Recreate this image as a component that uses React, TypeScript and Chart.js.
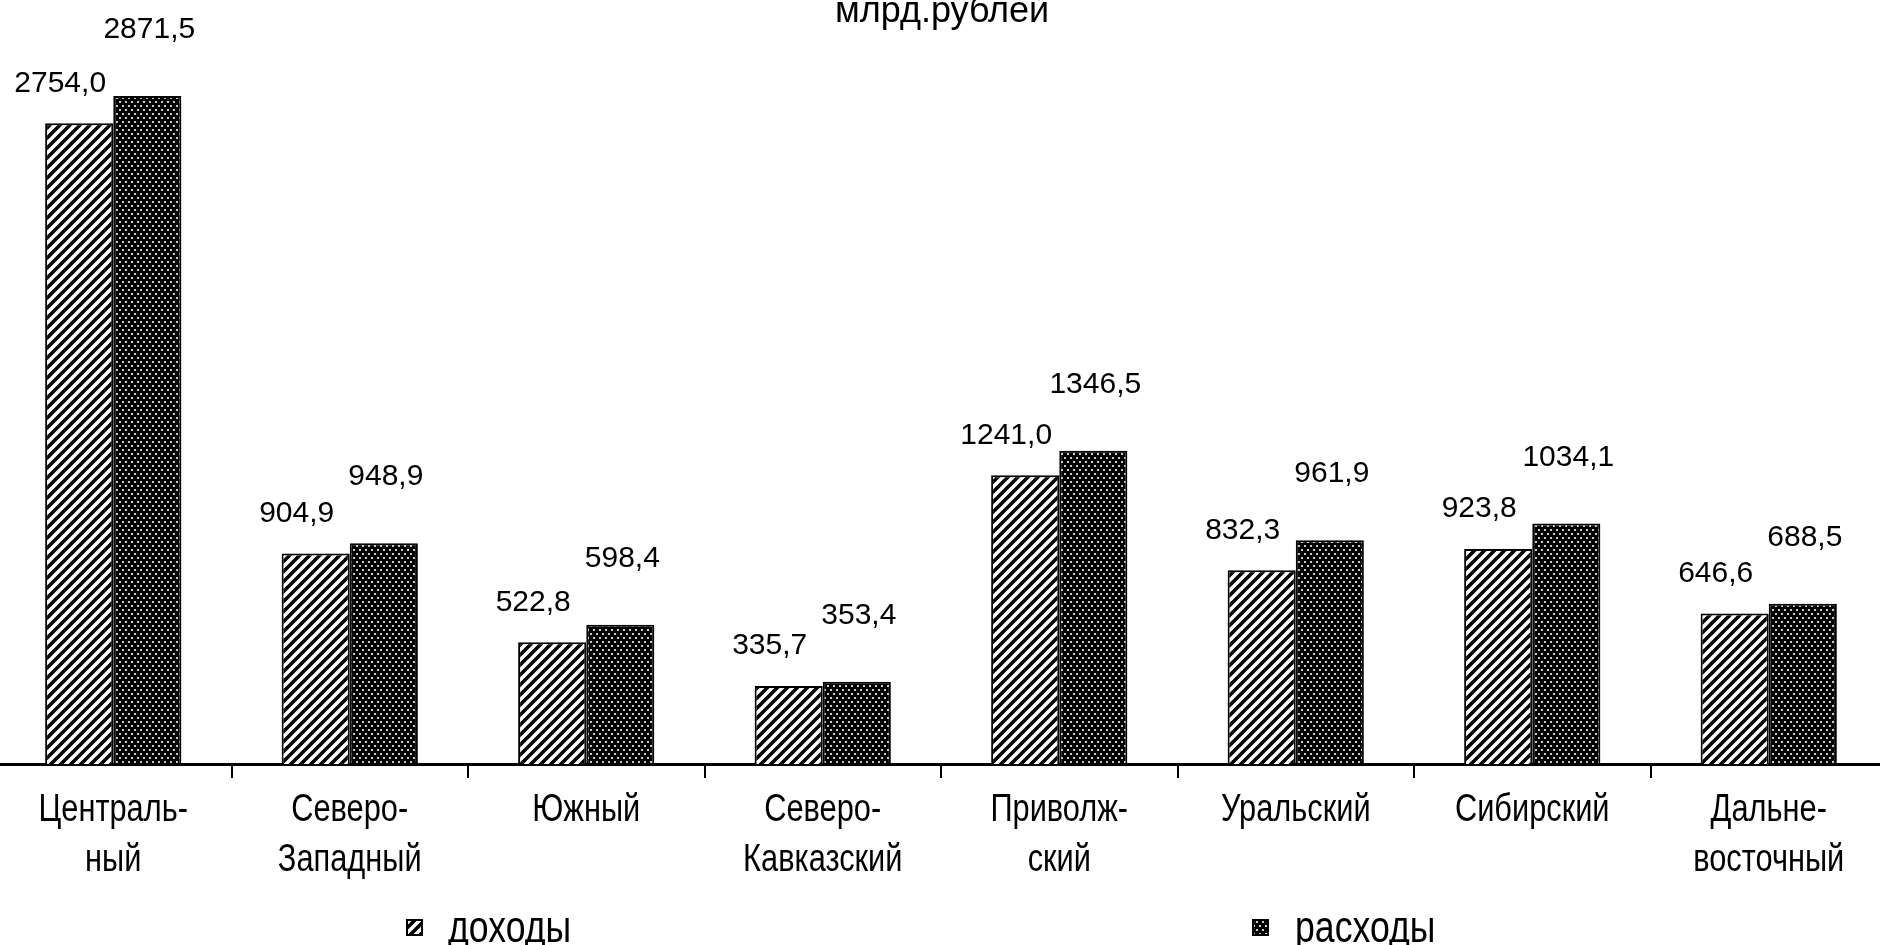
import React, { useEffect, useRef } from "react";
import { Chart, registerables } from "chart.js";

Chart.register(...registerables);

// ---- data ----
const categories: string[][] = [
  ["Централь-", "ный"],
  ["Северо-", "Западный"],
  ["Южный"],
  ["Северо-", "Кавказский"],
  ["Приволж-", "ский"],
  ["Уральский"],
  ["Сибирский"],
  ["Дальне-", "восточный"],
];
const incomeValues = [2754.0, 904.9, 522.8, 335.7, 1241.0, 832.3, 923.8, 646.6];
const expenseValues = [2871.5, 948.9, 598.4, 353.4, 1346.5, 961.9, 1034.1, 688.5];
const seriesNames = ["доходы", "расходы"];
const unitTitle = "млрд.рублей";
const yMin = 0;
const yMax = 3000;

// ---- layout / style constants ----
const CANVAS_LEFT = -5;
const CANVAS_WIDTH = 1892;
const CANVAS_HEIGHT = 945;
const REGULAR = "'Liberation Sans', Arial, sans-serif";
const CONDENSE = 0.81;
const LEGEND_CONDENSE = 0.81;
const labelOffsets = [
  { dx: -19, dy: 40 },
  { dx: 2, dy: 66 },
];
const legendItems = [
  { boxX: 407, textX: 448 },
  { boxX: 1253, textX: 1295 },
];

const fmt = (v: number) => v.toFixed(1).replace(".", ",");

function makeHatch(ctx: CanvasRenderingContext2D): CanvasPattern | string {
  const s = 10;
  const c = document.createElement("canvas");
  c.width = s;
  c.height = s;
  const g = c.getContext("2d")!;
  g.fillStyle = "#fff";
  g.fillRect(0, 0, s, s);
  g.strokeStyle = "#000";
  g.lineWidth = 3.6;
  g.beginPath();
  for (const k of [-1, 0, 1]) {
    g.moveTo(k * s - 1, s + 1);
    g.lineTo(k * s + s + 1, -1);
  }
  g.stroke();
  return ctx.createPattern(c, "repeat") || "#fff";
}

function makeDots(ctx: CanvasRenderingContext2D): CanvasPattern | string {
  const w = 6;
  const h = 8;
  const c = document.createElement("canvas");
  c.width = w;
  c.height = h;
  const g = c.getContext("2d")!;
  g.fillStyle = "#000";
  g.fillRect(0, 0, w, h);
  g.fillStyle = "#c8c8c8";
  g.fillRect(1, 1, 2, 2);
  g.fillRect(4, 5, 2, 2);
  return ctx.createPattern(c, "repeat") || "#000";
}

function condensedText(
  ctx: CanvasRenderingContext2D,
  text: string,
  x: number,
  y: number,
  factor: number
) {
  ctx.save();
  ctx.translate(x, y);
  ctx.scale(factor, 1);
  ctx.fillText(text, 0, 0);
  ctx.restore();
}

const overlayPlugin = {
  id: "overlay",
  afterDraw(chart: any) {
    const ctx: CanvasRenderingContext2D = chart.ctx;
    ctx.save();
    ctx.fillStyle = "#000";

    // value labels
    ctx.font = `30px ${REGULAR}`;
    ctx.textAlign = "center";
    ctx.textBaseline = "middle";
    chart.data.datasets.forEach((ds: any, i: number) => {
      const meta = chart.getDatasetMeta(i);
      const off = labelOffsets[i];
      meta.data.forEach((bar: any, j: number) => {
        ctx.fillText(fmt(ds.data[j]), bar.x + off.dx, bar.y - off.dy);
      });
    });

    // category labels (condensed, positioned through the x scale)
    const xs = chart.scales.x;
    ctx.font = `38px ${REGULAR}`;
    ctx.textAlign = "center";
    ctx.textBaseline = "middle";
    (chart.data.labels as string[][]).forEach((lines, i) => {
      const px = xs.getPixelForValue(i);
      lines.forEach((line, k) => {
        condensedText(ctx, line, px, xs.top + 47 + k * 50, CONDENSE);
      });
    });

    // title
    ctx.font = `36px ${REGULAR}`;
    ctx.textAlign = "center";
    ctx.textBaseline = "alphabetic";
    ctx.fillText(unitTitle, 942 - CANVAS_LEFT, 22);

    // legend
    ctx.textAlign = "left";
    ctx.font = `44px ${REGULAR}`;
    chart.data.datasets.forEach((ds: any, i: number) => {
      const item = legendItems[i];
      const bx = item.boxX - CANVAS_LEFT;
      const by = 920;
      ctx.fillStyle = ds.backgroundColor;
      ctx.fillRect(bx, by, 15, 15);
      ctx.strokeStyle = "#000";
      ctx.lineWidth = 2;
      ctx.strokeRect(bx, by, 15, 15);
      ctx.fillStyle = "#000";
      condensedText(ctx, ds.label, item.textX - CANVAS_LEFT, 942, LEGEND_CONDENSE);
    });
    ctx.restore();
  },
};

export default function App() {
  const ref = useRef<HTMLCanvasElement | null>(null);

  useEffect(() => {
    const canvas = ref.current;
    if (!canvas) return;
    const ctx = canvas.getContext("2d")!;
    const chart = new Chart(canvas, {
      type: "bar",
      data: {
        labels: categories,
        datasets: [
          {
            label: seriesNames[0],
            data: incomeValues,
            backgroundColor: makeHatch(ctx) as any,
            borderColor: "#000",
            borderWidth: 2,
          },
          {
            label: seriesNames[1],
            data: expenseValues,
            backgroundColor: makeDots(ctx) as any,
            borderColor: "#000",
            borderWidth: 2,
          },
        ],
      },
      options: {
        animation: false,
        responsive: true,
        maintainAspectRatio: false,
        layout: { padding: { top: 66, left: 0, right: 0, bottom: 0 } },
        datasets: {
          bar: { categoryPercentage: 0.576, barPercentage: 1 },
        },
        plugins: {
          legend: { display: false },
          title: { display: false },
          tooltip: { enabled: false },
        },
        scales: {
          x: {
            afterFit: (scale: any) => {
              scale.height = 181;
            },
            grid: {
              display: true,
              drawOnChartArea: false,
              drawTicks: true,
              tickLength: 14,
              color: "#000",
              lineWidth: 2,
              offset: true,
            },
            border: { display: true, color: "#000", width: 3 },
            ticks: {
              display: false,
              autoSkip: false,
            },
          },
          y: {
            display: false,
            min: yMin,
            max: yMax,
          },
        },
      },
      plugins: [overlayPlugin],
    });
    return () => chart.destroy();
  }, []);

  return (
    <div
      style={{
        position: "fixed",
        left: CANVAS_LEFT,
        top: 0,
        width: CANVAS_WIDTH,
        height: CANVAS_HEIGHT,
        background: "#fff",
      }}
    >
      <canvas ref={ref} />
    </div>
  );
}
